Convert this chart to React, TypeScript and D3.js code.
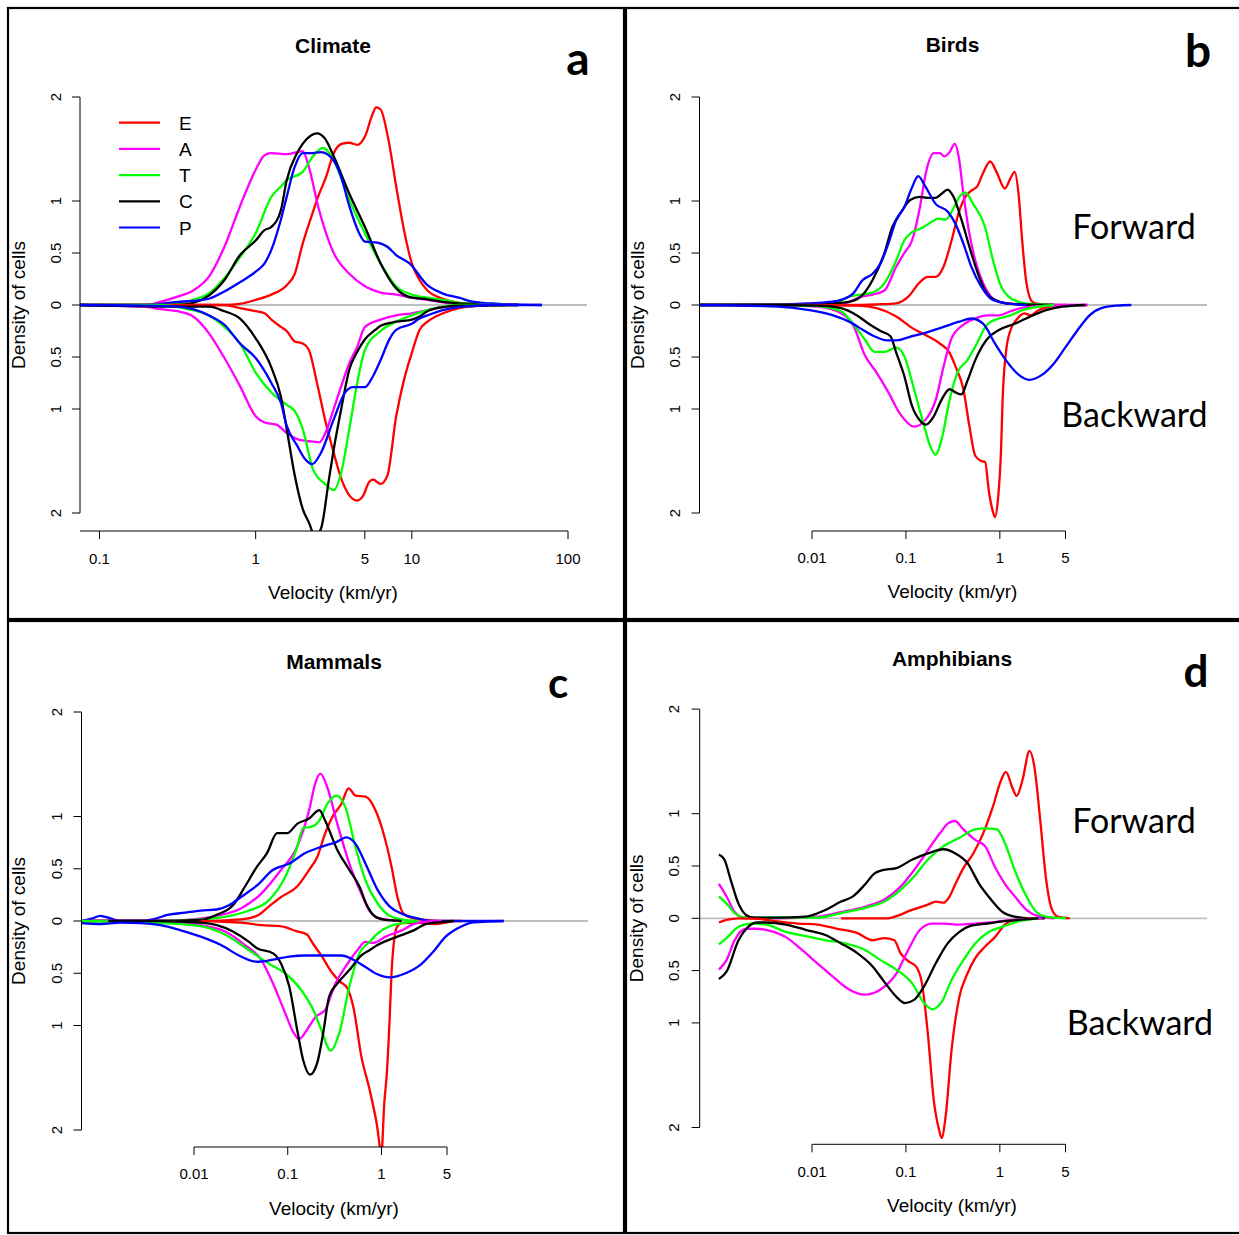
import React from "react";
import * as d3 from "d3";

type Pt = [number, number];

// ---------- shared labels ----------
const seriesNames = ["E", "A", "T", "C", "P"];
const seriesColors = ["#ff0000", "#ff00ff", "#00ff00", "#000000", "#0000ff"];
const yTickValues = [-2, -1, -0.5, 0, 0.5, 1, 2];
const xTicksClimate = [0.1, 1, 5, 10, 100];
const xTicksSpecies = [0.01, 0.1, 1, 5];

// ---------- a: Climate (velocity km/yr, density) ----------
const climateE_fwd: Pt[] = [[0.075,0],[0.5,0],[0.63,0],[0.79,0.01],[1.0,0.05],[1.26,0.1],[1.58,0.19],[1.78,0.3],[2.0,0.59],[2.24,0.82],[2.51,1.04],[2.82,1.23],[3.16,1.46],[3.55,1.55],[3.98,1.56],[4.47,1.54],[5.01,1.62],[5.62,1.84],[5.9,1.9],[6.31,1.88],[7.08,1.59],[7.94,1.14],[8.91,0.72],[10,0.4],[11.2,0.24],[12.6,0.14],[15.8,0.06],[20,0.02],[25.1,0.01],[31.6,0],[48,0]];
const climateA_fwd: Pt[] = [[0.075,0],[0.193,0],[0.245,0.03],[0.316,0.08],[0.398,0.14],[0.501,0.27],[0.631,0.56],[0.794,0.95],[1.0,1.3],[1.14,1.44],[1.26,1.46],[1.58,1.45],[2.0,1.48],[2.19,1.33],[2.51,0.95],[3.16,0.5],[3.98,0.3],[5.01,0.18],[6.31,0.12],[7.94,0.1],[10,0.07],[12.6,0.05],[15.8,0.025],[20,0.01],[31.6,0]];
const climateT_fwd: Pt[] = [[0.075,0],[0.25,0],[0.316,0.015],[0.398,0.05],[0.501,0.11],[0.631,0.26],[0.794,0.46],[1.0,0.69],[1.26,1.04],[1.45,1.14],[1.58,1.2],[2.0,1.28],[2.33,1.43],[2.7,1.51],[3.16,1.39],[3.98,1.01],[5.01,0.69],[6.31,0.4],[7.94,0.18],[10,0.1],[12.6,0.07],[15.8,0.05],[20,0.02],[25.1,0.01],[40,0]];
const climateC_fwd: Pt[] = [[0.075,0],[0.316,0],[0.398,0.02],[0.501,0.09],[0.631,0.24],[0.794,0.48],[1.0,0.62],[1.14,0.72],[1.26,0.75],[1.45,0.91],[1.58,1.2],[1.84,1.46],[2.0,1.55],[2.26,1.63],[2.47,1.65],[2.78,1.6],[3.16,1.43],[3.98,1.07],[5.01,0.75],[6.31,0.4],[7.94,0.16],[10,0.07],[12.6,0.055],[15.8,0.03],[20,0.016],[25.1,0.01],[48,0]];
const climateP_fwd: Pt[] = [[0.075,0],[0.193,0],[0.316,0.03],[0.398,0.04],[0.501,0.06],[0.631,0.13],[0.794,0.22],[1.0,0.32],[1.14,0.4],[1.26,0.53],[1.45,0.82],[1.58,1.04],[1.78,1.33],[2.0,1.46],[2.26,1.46],[2.62,1.47],[3.16,1.39],[3.53,1.23],[3.98,0.95],[4.6,0.69],[5.01,0.61],[6.01,0.6],[6.97,0.56],[7.94,0.48],[9.66,0.4],[12.6,0.19],[15.8,0.11],[20,0.07],[25.1,0.03],[31.6,0.016],[39.8,0.006],[68,0]];

const climateE_bwd: Pt[] = [[0.075,0],[0.631,0],[0.794,0.03],[1.0,0.06],[1.14,0.08],[1.26,0.14],[1.45,0.21],[1.58,0.25],[1.78,0.35],[2.0,0.37],[2.19,0.43],[2.47,0.75],[2.78,1.1],[3.16,1.42],[3.53,1.67],[3.98,1.83],[4.47,1.88],[4.89,1.83],[5.34,1.7],[5.66,1.68],[6.31,1.72],[6.97,1.64],[7.94,1.07],[8.91,0.72],[10,0.46],[11.2,0.24],[12.6,0.16],[15.8,0.08],[20,0.03],[25.1,0.01],[40,0]];
const climateA_bwd: Pt[] = [[0.075,0],[0.193,0.016],[0.245,0.04],[0.316,0.06],[0.398,0.11],[0.501,0.27],[0.631,0.51],[0.794,0.78],[1.0,1.07],[1.14,1.13],[1.36,1.15],[1.58,1.23],[1.84,1.29],[2.19,1.31],[2.55,1.32],[2.78,1.24],[3.16,1.0],[3.53,0.78],[3.98,0.56],[4.47,0.4],[5.01,0.21],[6.31,0.14],[7.94,0.1],[10,0.08],[12.6,0.05],[15.8,0.02],[20,0.006],[31.6,0]];
const climateT_bwd: Pt[] = [[0.075,0],[0.25,0],[0.316,0.02],[0.398,0.05],[0.501,0.1],[0.631,0.21],[0.794,0.37],[1.0,0.65],[1.26,0.84],[1.58,0.96],[1.78,1.02],[2.0,1.19],[2.33,1.58],[2.78,1.72],[3.16,1.78],[3.53,1.61],[3.98,1.19],[4.47,0.75],[5.01,0.43],[6.31,0.25],[7.94,0.16],[10,0.1],[12.6,0.05],[15.8,0.016],[20,0],[40,0]];
const climateC_bwd: Pt[] = [[0.075,0],[0.398,0.016],[0.501,0.016],[0.631,0.06],[0.794,0.13],[1.0,0.32],[1.26,0.6],[1.45,0.88],[1.58,1.19],[1.78,1.64],[2.0,1.96],[2.19,2.09],[2.4,2.22],[2.62,2.15],[2.95,1.67],[3.16,1.39],[3.53,1.0],[3.98,0.62],[4.47,0.45],[5.01,0.33],[5.83,0.24],[6.31,0.2],[7.94,0.16],[10,0.14],[11.2,0.11],[12.6,0.06],[15.8,0.02],[20,0.006],[48,0]];
const climateP_bwd: Pt[] = [[0.075,0],[0.193,0.006],[0.316,0.016],[0.398,0.04],[0.501,0.1],[0.631,0.19],[0.794,0.37],[1.0,0.51],[1.26,0.75],[1.45,0.94],[1.58,1.16],[1.84,1.35],[2.07,1.48],[2.3,1.53],[2.62,1.42],[3.16,1.1],[3.74,0.84],[4.21,0.79],[5.01,0.79],[5.66,0.68],[6.31,0.53],[7.18,0.33],[7.94,0.24],[10,0.18],[11.2,0.13],[12.6,0.1],[15.8,0.05],[20,0.02],[25.1,0.01],[31.6,0],[68,0]];

// ---------- b: Birds ----------
const birdsE_fwd: Pt[] = [[0.00063,0],[0.0301,0],[0.049,0.006],[0.079,0.016],[0.106,0.08],[0.141,0.22],[0.171,0.27],[0.208,0.27],[0.252,0.37],[0.306,0.62],[0.371,0.91],[0.429,1.04],[0.496,1.1],[0.574,1.14],[0.663,1.27],[0.789,1.38],[0.931,1.27],[1.13,1.12],[1.3,1.22],[1.44,1.28],[1.58,1.07],[1.74,0.59],[1.92,0.21],[2.22,0.03],[2.57,0.01],[3.78,0]];
const birdsA_fwd: Pt[] = [[0.00063,0],[0.0168,0.005],[0.0248,0.03],[0.0331,0.08],[0.0442,0.1],[0.0591,0.14],[0.079,0.37],[0.0959,0.5],[0.116,0.62],[0.141,0.94],[0.163,1.27],[0.198,1.46],[0.229,1.46],[0.257,1.43],[0.292,1.47],[0.331,1.55],[0.364,1.43],[0.409,1.07],[0.473,0.69],[0.547,0.43],[0.663,0.21],[0.805,0.08],[0.977,0.03],[1.44,0.01],[8.6,0]];
const birdsT_fwd: Pt[] = [[0.00063,0],[0.0168,0.005],[0.0248,0.08],[0.0331,0.1],[0.0442,0.12],[0.0591,0.21],[0.079,0.43],[0.0959,0.62],[0.116,0.7],[0.148,0.74],[0.189,0.8],[0.218,0.83],[0.265,0.82],[0.321,0.93],[0.371,1.04],[0.429,1.08],[0.521,0.97],[0.696,0.75],[0.845,0.43],[1.03,0.18],[1.24,0.08],[1.58,0.03],[2.12,0.01],[3.78,0]];
const birdsC_fwd: Pt[] = [[0.00063,0],[0.00941,0.01],[0.0168,0.016],[0.0248,0.03],[0.0331,0.08],[0.0442,0.24],[0.0591,0.5],[0.0717,0.75],[0.0871,0.88],[0.111,1.01],[0.141,1.04],[0.171,1.03],[0.208,1.03],[0.24,1.07],[0.278,1.11],[0.321,1.04],[0.39,0.82],[0.496,0.5],[0.602,0.27],[0.73,0.11],[0.887,0.05],[1.18,0.016],[1.74,0.005],[3.78,0]];
const birdsP_fwd: Pt[] = [[0.00063,0],[0.00434,0.005],[0.00941,0.016],[0.0153,0.03],[0.0204,0.05],[0.0273,0.11],[0.0347,0.24],[0.0442,0.3],[0.0537,0.4],[0.0651,0.59],[0.079,0.82],[0.0959,0.94],[0.116,1.13],[0.135,1.24],[0.163,1.13],[0.208,0.97],[0.278,0.9],[0.337,0.78],[0.409,0.59],[0.496,0.37],[0.632,0.18],[0.805,0.06],[0.977,0.03],[1.3,0.01],[1.92,0]];

const birdsE_bwd: Pt[] = [[0.00063,0],[0.0114,0],[0.0301,0.006],[0.0487,0.03],[0.079,0.11],[0.116,0.22],[0.171,0.3],[0.229,0.37],[0.292,0.46],[0.337,0.59],[0.409,0.81],[0.473,1.16],[0.547,1.45],[0.632,1.5],[0.696,1.51],[0.767,1.8],[0.845,1.99],[0.887,2.04],[0.957,1.86],[1.03,1.39],[1.07,0.91],[1.16,0.46],[1.3,0.24],[1.51,0.14],[1.83,0.08],[2.12,0.1],[2.57,0.05],[3.43,0.016],[5.05,0]];
const birdsA_bwd: Pt[] = [[0.00063,0],[0.00434,0],[0.0114,0.016],[0.0204,0.08],[0.0273,0.19],[0.0364,0.48],[0.0487,0.65],[0.0651,0.84],[0.0871,1.05],[0.122,1.17],[0.163,1.1],[0.208,0.91],[0.252,0.59],[0.306,0.32],[0.409,0.19],[0.547,0.13],[0.73,0.1],[0.977,0.1],[1.3,0.06],[1.92,0.02],[3.78,0.006],[8.6,0]];
const birdsT_bwd: Pt[] = [[0.00063,0],[0.00434,0],[0.0114,0.01],[0.0204,0.06],[0.0273,0.18],[0.0364,0.33],[0.0464,0.45],[0.0591,0.45],[0.079,0.41],[0.0959,0.49],[0.122,0.81],[0.156,1.16],[0.18,1.35],[0.208,1.44],[0.24,1.29],[0.292,0.91],[0.354,0.65],[0.451,0.53],[0.547,0.4],[0.73,0.19],[0.977,0.13],[1.3,0.1],[1.74,0.05],[2.57,0.016],[3.78,0]];
const birdsC_bwd: Pt[] = [[0.00063,0],[0.00434,0],[0.0114,0.006],[0.0204,0.03],[0.0301,0.1],[0.0401,0.18],[0.0537,0.25],[0.0684,0.3],[0.079,0.46],[0.0959,0.68],[0.116,0.97],[0.141,1.11],[0.163,1.15],[0.198,1.07],[0.24,0.91],[0.292,0.81],[0.337,0.84],[0.39,0.86],[0.451,0.73],[0.547,0.53],[0.73,0.33],[0.977,0.24],[1.44,0.18],[2.12,0.11],[3.11,0.05],[4.59,0.016],[8.19,0]];
const birdsP_bwd: Pt[] = [[0.00063,0],[0.00434,0.016],[0.00941,0.05],[0.0168,0.1],[0.0248,0.16],[0.0364,0.25],[0.0487,0.31],[0.062,0.34],[0.079,0.34],[0.116,0.3],[0.171,0.26],[0.252,0.21],[0.371,0.16],[0.496,0.13],[0.663,0.18],[0.887,0.37],[1.18,0.54],[1.58,0.67],[2.05,0.72],[2.83,0.67],[3.78,0.56],[5.05,0.4],[6.75,0.24],[9.02,0.1],[12,0.03],[17.7,0.006],[25.1,0]];

// ---------- c: Mammals ----------
const mammalsE_fwd: Pt[] = [[0.000632,0],[0.0118,0],[0.0317,0.016],[0.047,0.05],[0.0632,0.14],[0.085,0.23],[0.126,0.33],[0.169,0.49],[0.206,0.61],[0.251,0.84],[0.301,1.0],[0.373,1.12],[0.446,1.27],[0.527,1.2],[0.674,1.19],[0.863,1.06],[1.05,0.84],[1.28,0.52],[1.48,0.23],[1.72,0.07],[2.2,0.025],[2.96,0.01],[4.39,0],[7.19,0]];
const mammalsA_fwd: Pt[] = [[0.000632,0],[0.00441,0],[0.0097,0.016],[0.0175,0.05],[0.0317,0.12],[0.0519,0.26],[0.085,0.49],[0.126,0.71],[0.169,1.06],[0.197,1.32],[0.223,1.41],[0.264,1.28],[0.338,0.93],[0.454,0.55],[0.611,0.26],[0.744,0.1],[0.906,0.03],[1.22,0.01],[1.64,0]];
const mammalsT_fwd: Pt[] = [[0.000632,0],[0.00441,0],[0.0118,0.016],[0.0214,0.04],[0.0386,0.1],[0.0632,0.2],[0.0938,0.42],[0.126,0.71],[0.146,0.89],[0.178,0.9],[0.217,0.96],[0.264,1.12],[0.331,1.2],[0.412,1.09],[0.527,0.71],[0.674,0.39],[0.906,0.17],[1.22,0.05],[1.64,0.016],[2.43,0]];
const mammalsC_fwd: Pt[] = [[0.000632,0],[0.00441,0],[0.0118,0.01],[0.0175,0.06],[0.026,0.15],[0.035,0.33],[0.047,0.52],[0.0601,0.65],[0.0771,0.84],[0.0986,0.84],[0.126,0.93],[0.169,0.98],[0.217,1.06],[0.251,0.96],[0.338,0.68],[0.454,0.49],[0.581,0.33],[0.708,0.14],[0.863,0.04],[1.1,0.01],[1.64,0]];
const mammalsP_fwd: Pt[] = [[0.000632,0],[0.000825,0.025],[0.001,0.05],[0.00129,0.025],[0.00164,0],[0.00269,0],[0.00362,0.016],[0.00537,0.06],[0.00797,0.08],[0.0118,0.1],[0.0175,0.11],[0.0236,0.15],[0.0317,0.23],[0.047,0.34],[0.0698,0.49],[0.104,0.55],[0.154,0.65],[0.228,0.71],[0.338,0.76],[0.42,0.8],[0.527,0.74],[0.674,0.55],[0.906,0.3],[1.22,0.14],[1.64,0.07],[2.43,0.025],[3.6,0],[20,0]];

const mammalsE_bwd: Pt[] = [[0.0118,0],[0.0317,0.016],[0.0519,0.04],[0.083,0.05],[0.126,0.1],[0.16,0.13],[0.187,0.22],[0.228,0.33],[0.3,0.5],[0.36,0.58],[0.43,0.64],[0.5,0.82],[0.611,1.3],[0.75,1.62],[0.89,1.94],[1.0,2.22],[1.07,1.75],[1.14,1.46],[1.22,0.95],[1.28,0.5],[1.38,0.15],[1.48,0.05],[1.64,0.02],[2.43,0.016],[3.6,0.03],[4.84,0.016],[5.9,0]];
const mammalsA_bwd: Pt[] = [[0.000632,0],[0.00441,0],[0.0118,0.04],[0.0214,0.1],[0.035,0.23],[0.0519,0.37],[0.0698,0.6],[0.0938,0.88],[0.114,1.06],[0.132,1.13],[0.161,1.04],[0.197,0.92],[0.251,0.85],[0.322,0.6],[0.412,0.44],[0.553,0.28],[0.674,0.2],[0.821,0.21],[1.1,0.15],[1.64,0.09],[2.2,0.03],[2.96,0.005],[4.39,0]];
const mammalsT_bwd: Pt[] = [[0.000632,0],[0.00441,0.02],[0.0118,0.05],[0.0214,0.13],[0.0386,0.28],[0.0632,0.41],[0.0938,0.5],[0.139,0.66],[0.187,0.85],[0.228,1.04],[0.286,1.24],[0.355,1.07],[0.454,0.63],[0.581,0.31],[0.744,0.2],[0.906,0.12],[1.22,0.05],[1.81,0.016],[2.43,0]];
const mammalsC_bwd: Pt[] = [[0.00122,0],[0.00441,0],[0.0118,0.016],[0.0175,0.04],[0.026,0.1],[0.0386,0.2],[0.047,0.26],[0.0698,0.31],[0.085,0.41],[0.104,0.63],[0.126,1.04],[0.146,1.33],[0.173,1.47],[0.206,1.36],[0.239,1.07],[0.277,0.72],[0.338,0.6],[0.454,0.47],[0.611,0.33],[0.744,0.28],[0.906,0.23],[1.48,0.15],[2.2,0.09],[2.96,0.03],[4.39,0.01],[5.9,0]];
const mammalsP_bwd: Pt[] = [[0.000632,0.02],[0.001,0.03],[0.00164,0.016],[0.00269,0.02],[0.00441,0.04],[0.00722,0.09],[0.0118,0.15],[0.0194,0.23],[0.0317,0.34],[0.047,0.39],[0.0698,0.37],[0.104,0.34],[0.154,0.33],[0.228,0.33],[0.373,0.33],[0.501,0.37],[0.674,0.44],[0.906,0.51],[1.22,0.54],[1.81,0.5],[2.68,0.41],[3.6,0.29],[4.84,0.15],[6.51,0.07],[9.66,0.013],[20.2,0]];

// ---------- d: Amphibians ----------
const amphE_fwd: Pt[] = [[0.0204,0],[0.0651,0],[0.079,0.02],[0.116,0.08],[0.171,0.13],[0.208,0.16],[0.252,0.15],[0.292,0.21],[0.337,0.33],[0.409,0.48],[0.521,0.62],[0.663,0.81],[0.845,1.07],[1.03,1.32],[1.16,1.4],[1.37,1.24],[1.51,1.17],[1.74,1.32],[2.07,1.6],[2.33,1.45],[2.69,0.94],[3.11,0.37],[3.6,0.08],[4.16,0.016],[5.56,0]];
const amphA_fwd: Pt[] = [[0.00102,0.33],[0.00123,0.21],[0.0015,0.06],[0.00182,0.01],[0.00434,0],[0.0114,0.016],[0.0204,0.06],[0.0364,0.11],[0.0591,0.18],[0.0871,0.3],[0.122,0.46],[0.171,0.65],[0.229,0.81],[0.283,0.91],[0.331,0.93],[0.409,0.85],[0.547,0.75],[0.696,0.69],[0.887,0.49],[1.13,0.33],[1.44,0.21],[1.92,0.08],[2.57,0.02],[3.78,0]];
const amphT_fwd: Pt[] = [[0.00102,0.21],[0.00123,0.14],[0.0015,0.05],[0.002,0.006],[0.0114,0.006],[0.0204,0.05],[0.0364,0.1],[0.0591,0.16],[0.0871,0.27],[0.122,0.4],[0.171,0.56],[0.252,0.69],[0.371,0.77],[0.547,0.85],[0.696,0.86],[0.931,0.85],[1.13,0.72],[1.44,0.46],[1.92,0.21],[2.45,0.06],[3.11,0.016],[5.05,0]];
const amphC_fwd: Pt[] = [[0.00102,0.61],[0.00117,0.56],[0.00136,0.37],[0.00165,0.14],[0.002,0.03],[0.00243,0.006],[0.00434,0.006],[0.00855,0.016],[0.0139,0.08],[0.0204,0.16],[0.0273,0.21],[0.0364,0.32],[0.0464,0.43],[0.0563,0.46],[0.079,0.48],[0.116,0.56],[0.171,0.62],[0.252,0.66],[0.337,0.62],[0.451,0.53],[0.602,0.33],[0.805,0.18],[1.07,0.06],[1.44,0.016],[2.12,0],[3,0]];

const amphE_bwd: Pt[] = [[0.00102,0.04],[0.00123,0.016],[0.00165,0],[0.00268,0.006],[0.00434,0.03],[0.00704,0.05],[0.0114,0.06],[0.0185,0.1],[0.0301,0.14],[0.0442,0.21],[0.0591,0.19],[0.0753,0.21],[0.0871,0.33],[0.106,0.41],[0.128,0.46],[0.148,0.62],[0.171,1.1],[0.198,1.74],[0.225,2.02],[0.24,2.1],[0.265,1.89],[0.306,1.26],[0.371,0.75],[0.451,0.53],[0.547,0.38],[0.696,0.27],[0.887,0.18],[1.13,0.06],[1.44,0.016],[2.33,0]];
const amphA_bwd: Pt[] = [[0.00102,0.49],[0.00123,0.4],[0.0015,0.21],[0.002,0.1],[0.00255,0.1],[0.00358,0.12],[0.00527,0.18],[0.00776,0.3],[0.0114,0.43],[0.0168,0.56],[0.0248,0.68],[0.0364,0.73],[0.0537,0.68],[0.079,0.53],[0.106,0.3],[0.141,0.11],[0.189,0.05],[0.252,0.05],[0.371,0.06],[0.547,0.05],[0.805,0.04],[1.18,0.02],[2.12,0.006],[2.83,0]];
const amphT_bwd: Pt[] = [[0.00102,0.25],[0.00123,0.19],[0.00165,0.08],[0.00221,0.05],[0.00325,0.06],[0.00527,0.13],[0.00855,0.17],[0.0139,0.21],[0.0225,0.24],[0.0364,0.3],[0.0537,0.4],[0.079,0.49],[0.116,0.62],[0.156,0.81],[0.192,0.87],[0.24,0.8],[0.306,0.59],[0.409,0.4],[0.547,0.24],[0.73,0.14],[1.07,0.08],[1.58,0.03],[2.57,0]];
const amphC_bwd: Pt[] = [[0.00102,0.58],[0.00123,0.51],[0.00165,0.21],[0.002,0.1],[0.00255,0.04],[0.00325,0.04],[0.00527,0.06],[0.00855,0.11],[0.0139,0.16],[0.0204,0.24],[0.0301,0.33],[0.0442,0.46],[0.0591,0.61],[0.079,0.75],[0.0977,0.81],[0.122,0.78],[0.156,0.65],[0.208,0.43],[0.278,0.24],[0.371,0.13],[0.496,0.07],[0.73,0.05],[1.07,0.03],[1.58,0.016],[2.57,0]];

// ---------- layout ----------
const SANS = "'Liberation Sans', Arial, Helvetica, sans-serif";
const CAL = "Lato, 'Open Sans', sans-serif";

type Panel = {
  id: string; title: string; letter: string;
  fwd: Pt[][]; bwd: Pt[][];
  box: [number, number, number, number];
  xDomain: [number, number]; xRange: [number, number];
  xTicks: number[]; axisX0: number; axisY: number;
  zero: number; unit: number; yAxisX: number; greyEnd: number;
  yTickLabelX: number; yLabelX: number; xTickLabelY: number; xLabelY: number;
  titleX: number; titleY: number;
  letterX: number; letterY: number; letterSize: number;
  legend?: boolean;
  fwdText?: [number, number]; bwdText?: [number, number];
};

const panels: Panel[] = [
  {
    id: "a", title: "Climate", letter: "a",
    fwd: [climateE_fwd, climateA_fwd, climateT_fwd, climateC_fwd, climateP_fwd],
    bwd: [climateE_bwd, climateA_bwd, climateT_bwd, climateC_bwd, climateP_bwd],
    box: [8, 8, 616, 611], xDomain: [0.1, 100], xRange: [99.5, 568], xTicks: xTicksClimate,
    axisX0: 80, axisY: 531, zero: 305, unit: 104, yAxisX: 80, greyEnd: 587,
    yTickLabelX: 61, yLabelX: 25, xTickLabelY: 564, xLabelY: 599,
    titleX: 333, titleY: 53, letterX: 578, letterY: 75, letterSize: 46, legend: true,
  },
  {
    id: "b", title: "Birds", letter: "b",
    fwd: [birdsE_fwd, birdsA_fwd, birdsT_fwd, birdsC_fwd, birdsP_fwd],
    bwd: [birdsE_bwd, birdsA_bwd, birdsT_bwd, birdsC_bwd, birdsP_bwd],
    box: [626, 8, 616, 611], xDomain: [0.01, 5], xRange: [812, 1065.5], xTicks: xTicksSpecies,
    axisX0: 812, axisY: 531, zero: 305, unit: 104, yAxisX: 699.5, greyEnd: 1207,
    yTickLabelX: 680, yLabelX: 644, xTickLabelY: 563, xLabelY: 598,
    titleX: 952.5, titleY: 52, letterX: 1198, letterY: 67, letterSize: 46,
    fwdText: [1134, 239], bwdText: [1134.5, 427],
  },
  {
    id: "c", title: "Mammals", letter: "c",
    fwd: [mammalsE_fwd, mammalsA_fwd, mammalsT_fwd, mammalsC_fwd, mammalsP_fwd],
    bwd: [mammalsE_bwd, mammalsA_bwd, mammalsT_bwd, mammalsC_bwd, mammalsP_bwd],
    box: [8, 621, 616, 612], xDomain: [0.01, 5], xRange: [194, 447], xTicks: xTicksSpecies,
    axisX0: 194, axisY: 1147, zero: 921, unit: 104.5, yAxisX: 81.5, greyEnd: 588,
    yTickLabelX: 62, yLabelX: 25, xTickLabelY: 1179, xLabelY: 1215,
    titleX: 334, titleY: 669, letterX: 558, letterY: 698, letterSize: 42,
  },
  {
    id: "d", title: "Amphibians", letter: "d",
    fwd: [amphE_fwd, amphA_fwd, amphT_fwd, amphC_fwd],
    bwd: [amphE_bwd, amphA_bwd, amphT_bwd, amphC_bwd],
    box: [626, 621, 616, 612], xDomain: [0.01, 5], xRange: [812, 1065.5], xTicks: xTicksSpecies,
    axisX0: 812, axisY: 1144.3, zero: 918.3, unit: 104.6, yAxisX: 699.7, greyEnd: 1207,
    yTickLabelX: 679, yLabelX: 643, xTickLabelY: 1177, xLabelY: 1212,
    titleX: 952, titleY: 666, letterX: 1196, letterY: 687, letterSize: 44,
    fwdText: [1134, 833], bwdText: [1140, 1035],
  },
];

function fmt(v: number): string {
  return String(Math.abs(v));
}

function PanelView({ p }: { p: Panel }) {
  const x = d3.scaleLog().domain(p.xDomain).range(p.xRange);
  const y = d3.scaleLinear().domain([-2, 2]).range([p.zero + 2 * p.unit, p.zero - 2 * p.unit]);
  const lineF = d3.line<Pt>().x((d) => x(d[0])).y((d) => y(d[1])).curve(d3.curveMonotoneX);
  const lineB = d3.line<Pt>().x((d) => x(d[0])).y((d) => y(-d[1])).curve(d3.curveMonotoneX);
  const clipId = `clip-${p.id}`;
  const [bx, by, bw, bh] = p.box;
  return (
    <g>
      <rect x={bx} y={by} width={bw} height={bh} fill="none" stroke="#000" strokeWidth={2.2} />
      <defs>
        <clipPath id={clipId}>
          <rect x={p.yAxisX} y={p.zero - 2.4 * p.unit} width={p.greyEnd - p.yAxisX + 40} height={p.axisY - (p.zero - 2.4 * p.unit)} />
        </clipPath>
      </defs>
      <line x1={p.yAxisX} x2={p.greyEnd} y1={y(0)} y2={y(0)} stroke="#bebebe" strokeWidth={1.8} />
      <g clipPath={`url(#${clipId})`}>
        {p.fwd.map((c, i) => (
          <path key={`f${i}`} d={lineF(c) || ""} fill="none" stroke={seriesColors[i]} strokeWidth={2.3} strokeLinejoin="round" />
        ))}
        {p.bwd.map((c, i) => (
          <path key={`b${i}`} d={lineB(c) || ""} fill="none" stroke={seriesColors[i]} strokeWidth={2.3} strokeLinejoin="round" />
        ))}
      </g>
      <line x1={p.yAxisX} x2={p.yAxisX} y1={y(2)} y2={y(-2)} stroke="#000" strokeWidth={1} />
      {yTickValues.map((t) => (
        <g key={`yt${t}`}>
          <line x1={p.yAxisX - 8} x2={p.yAxisX} y1={y(t)} y2={y(t)} stroke="#000" strokeWidth={1} />
          <text transform={`translate(${p.yTickLabelX},${y(t)}) rotate(-90)`} textAnchor="middle" fontFamily={SANS} fontSize={15} fill="#000">
            {fmt(t)}
          </text>
        </g>
      ))}
      <text transform={`translate(${p.yLabelX},${p.zero}) rotate(-90)`} textAnchor="middle" fontFamily={SANS} fontSize={19} fill="#000">
        Density of cells
      </text>
      <line x1={p.axisX0} x2={x(p.xTicks[p.xTicks.length - 1])} y1={p.axisY} y2={p.axisY} stroke="#000" strokeWidth={1} />
      {p.xTicks.map((t) => (
        <g key={`xt${t}`}>
          <line x1={x(t)} x2={x(t)} y1={p.axisY} y2={p.axisY + 8} stroke="#000" strokeWidth={1} />
          <text x={x(t)} y={p.xTickLabelY} textAnchor="middle" fontFamily={SANS} fontSize={15} fill="#000">
            {String(t)}
          </text>
        </g>
      ))}
      <text x={p.titleX} y={p.xLabelY} textAnchor="middle" fontFamily={SANS} fontSize={19} fill="#000">
        Velocity (km/yr)
      </text>
      <text x={p.titleX} y={p.titleY} textAnchor="middle" fontFamily={SANS} fontSize={21} fontWeight="bold" fill="#000">
        {p.title}
      </text>
      <text x={p.letterX} y={p.letterY} textAnchor="middle" fontFamily={CAL} fontSize={p.letterSize} fontWeight="bold" fill="#000">
        {p.letter}
      </text>
      {p.fwdText && (
        <text x={p.fwdText[0]} y={p.fwdText[1]} textAnchor="middle" fontFamily={CAL} fontSize={34} fill="#000">Forward</text>
      )}
      {p.bwdText && (
        <text x={p.bwdText[0]} y={p.bwdText[1]} textAnchor="middle" fontFamily={CAL} fontSize={34} fill="#000">Backward</text>
      )}
      {p.legend && (
        <g>
          {seriesNames.map((n, i) => (
            <g key={n}>
              <line x1={119} x2={160} y1={122.7 + i * 26.2} y2={122.7 + i * 26.2} stroke={seriesColors[i]} strokeWidth={2.2} />
              <text x={179} y={129.7 + i * 26.2} fontFamily={SANS} fontSize={19} fill="#000">{n}</text>
            </g>
          ))}
        </g>
      )}
    </g>
  );
}

export default function App() {
  return (
    <svg width={1239} height={1235} style={{ position: "absolute", left: 0, top: 0, background: "#fff" }}>
      <rect x={0} y={0} width={1239} height={1235} fill="#fff" />
      {panels.map((p) => (
        <PanelView key={p.id} p={p} />
      ))}
    </svg>
  );
}
